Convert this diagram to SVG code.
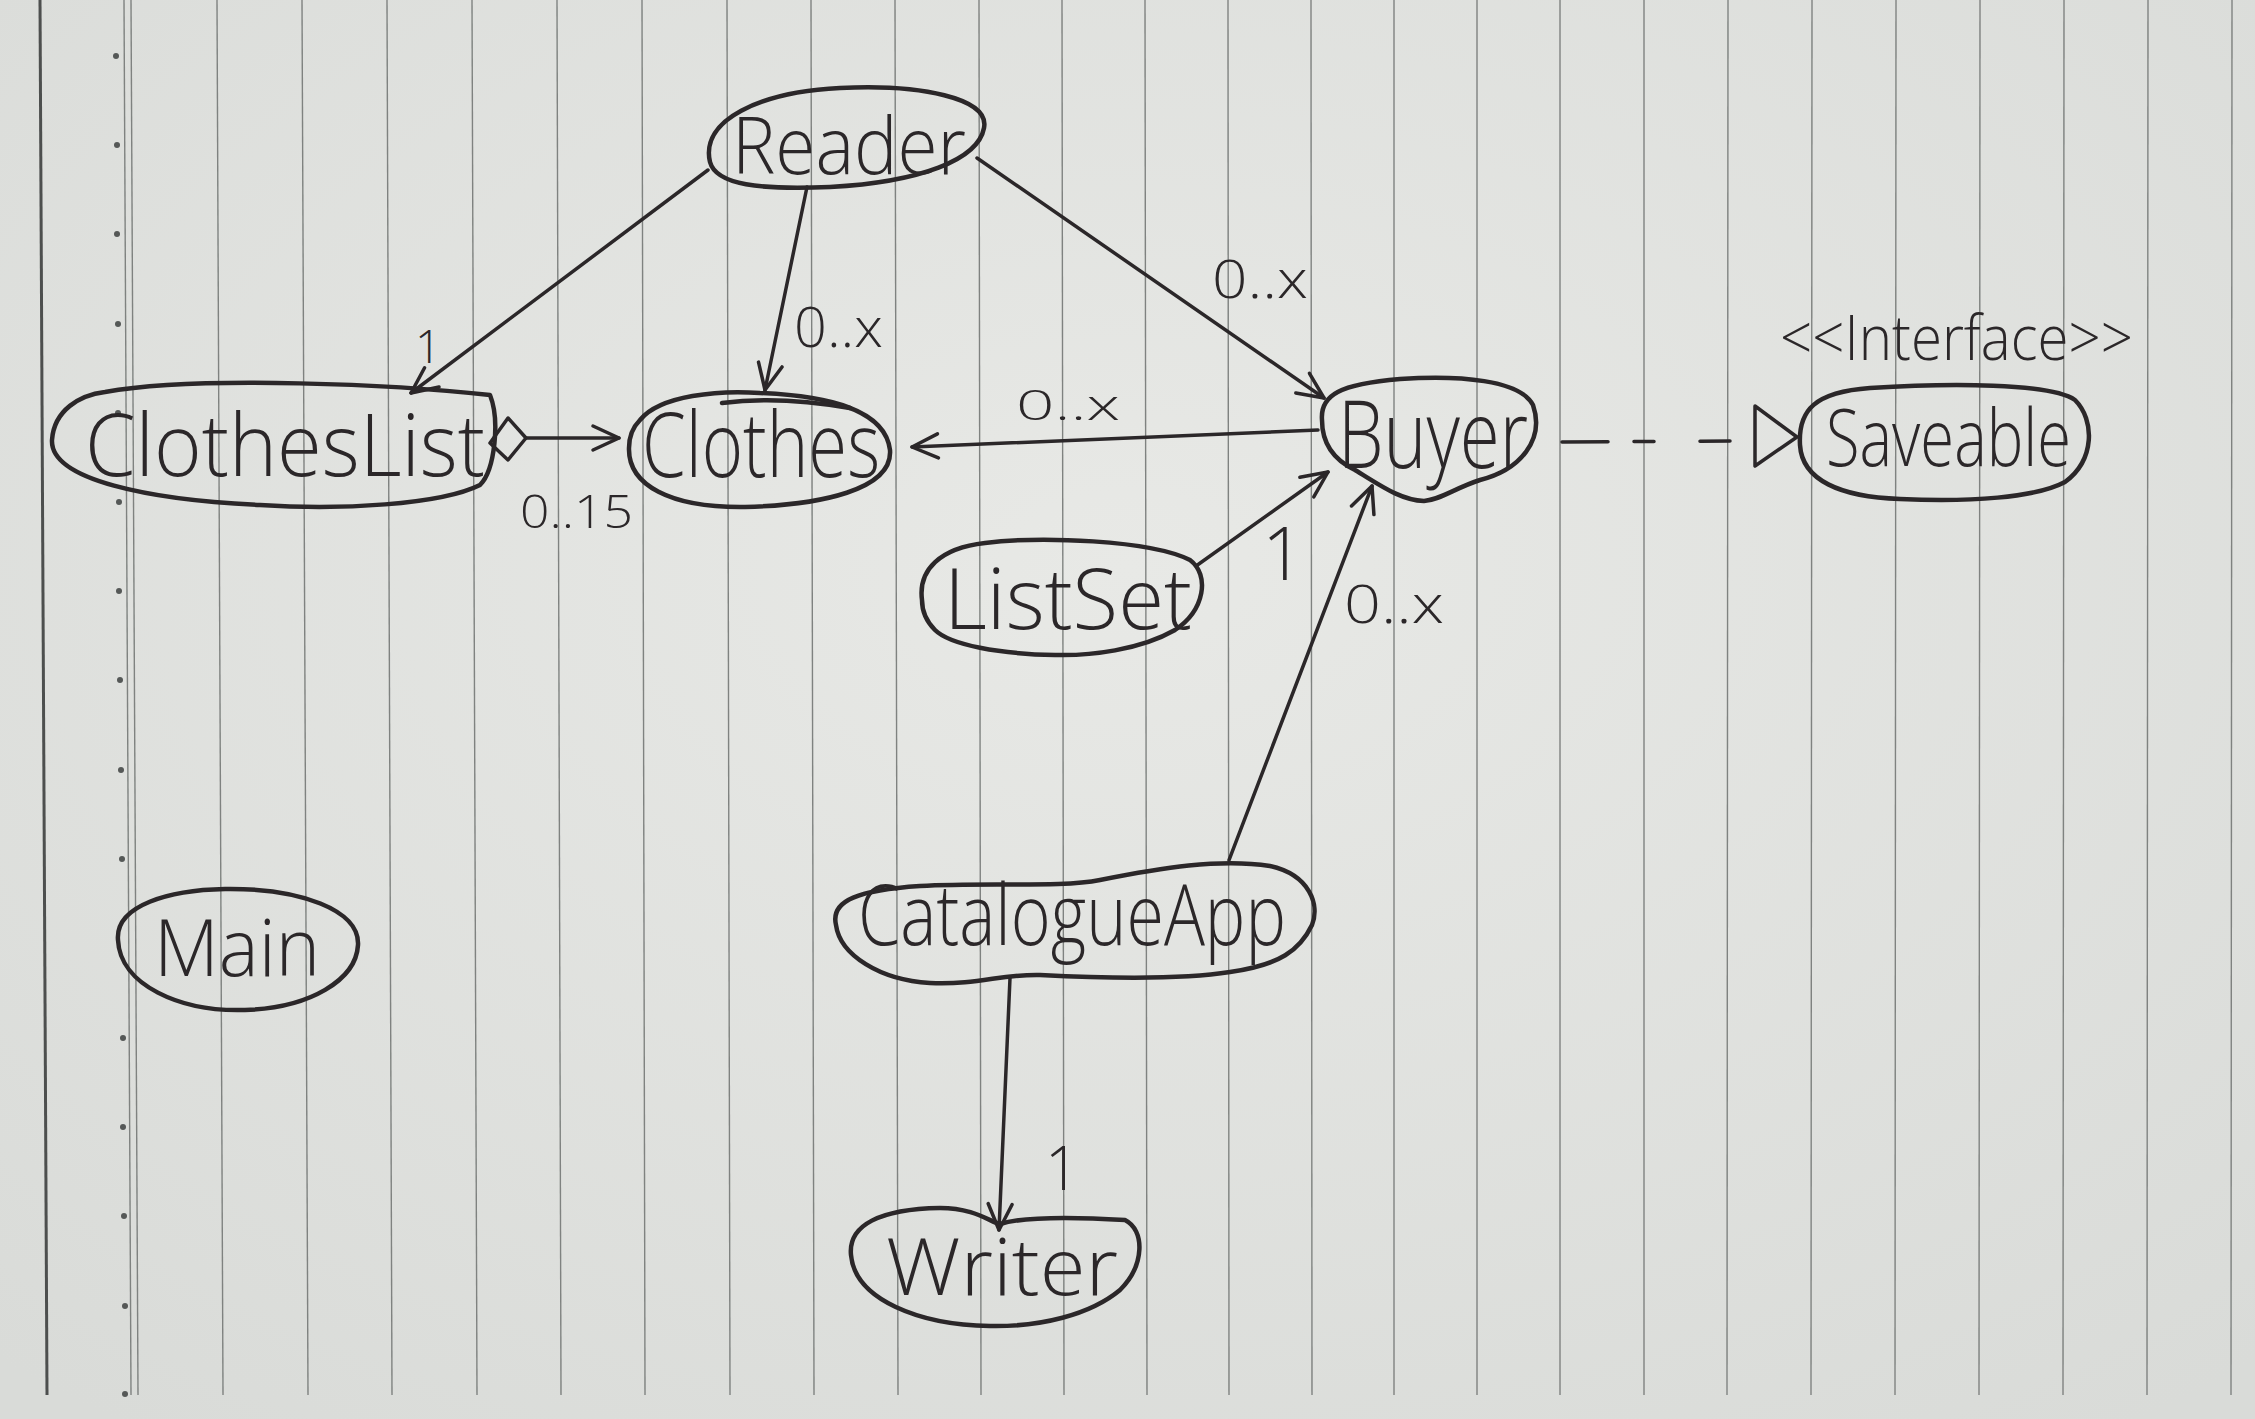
<svg xmlns="http://www.w3.org/2000/svg" width="2255" height="1419" viewBox="0 0 2255 1419">
<defs>
<radialGradient id="paper" cx="50%" cy="40%" r="75%">
<stop offset="0" stop-color="#e8e9e6"/>
<stop offset="1" stop-color="#d9dbd8"/>
</radialGradient>
<marker id="arr" markerUnits="userSpaceOnUse" markerWidth="60" markerHeight="60" refX="0" refY="0" orient="auto" overflow="visible">
<path d="M -26,-12 L 0,0 L -26,12" fill="none" stroke="#2b2729" stroke-width="3.5" stroke-linecap="round" stroke-linejoin="round"/>
</marker>
</defs>
<style>
.rule{stroke:#7f8280;stroke-width:1.4;fill:none}
.margin{stroke:#4d4f4e;stroke-width:3;fill:none}
.dot{fill:#555857}
.node{fill:none;stroke:#2b2729;stroke-width:4.5;stroke-linejoin:round;stroke-linecap:round}
.conn{fill:none;stroke:#2b2729;stroke-width:3.5;stroke-linecap:round;stroke-linejoin:round}
.lbl{font-family:"Open Sans","DejaVu Sans",sans-serif;font-weight:300;fill:#2b2729}
</style>
<rect width="2255" height="1419" fill="url(#paper)"/>
<g id="paper-rules">
<line class="margin" x1="40" y1="0" x2="47" y2="1395"/>
<line class="rule" x1="124" y1="0" x2="131" y2="1395"/>
<line class="rule" x1="131" y1="0" x2="138" y2="1395"/>
<line class="rule" x1="217" y1="0" x2="223" y2="1395"/>
<line class="rule" x1="302" y1="0" x2="308" y2="1395"/>
<line class="rule" x1="387" y1="0" x2="392" y2="1395"/>
<line class="rule" x1="472" y1="0" x2="477" y2="1395"/>
<line class="rule" x1="557" y1="0" x2="561" y2="1395"/>
<line class="rule" x1="642" y1="0" x2="645" y2="1395"/>
<line class="rule" x1="727" y1="0" x2="730" y2="1395"/>
<line class="rule" x1="811" y1="0" x2="814" y2="1395"/>
<line class="rule" x1="895" y1="0" x2="898" y2="1395"/>
<line class="rule" x1="979" y1="0" x2="981" y2="1395"/>
<line class="rule" x1="1062" y1="0" x2="1064" y2="1395"/>
<line class="rule" x1="1145" y1="0" x2="1147" y2="1395"/>
<line class="rule" x1="1228" y1="0" x2="1229" y2="1395"/>
<line class="rule" x1="1311" y1="0" x2="1312" y2="1395"/>
<line class="rule" x1="1394" y1="0" x2="1394" y2="1395"/>
<line class="rule" x1="1477" y1="0" x2="1477" y2="1395"/>
<line class="rule" x1="1560" y1="0" x2="1560" y2="1395"/>
<line class="rule" x1="1644" y1="0" x2="1644" y2="1395"/>
<line class="rule" x1="1728" y1="0" x2="1727" y2="1395"/>
<line class="rule" x1="1812" y1="0" x2="1811" y2="1395"/>
<line class="rule" x1="1896" y1="0" x2="1895" y2="1395"/>
<line class="rule" x1="1980" y1="0" x2="1979" y2="1395"/>
<line class="rule" x1="2064" y1="0" x2="2063" y2="1395"/>
<line class="rule" x1="2148" y1="0" x2="2147" y2="1395"/>
<line class="rule" x1="2232" y1="0" x2="2231" y2="1395"/>
<circle class="dot" cx="116" cy="56" r="3"/>
<circle class="dot" cx="117" cy="145" r="3"/>
<circle class="dot" cx="117" cy="234" r="3"/>
<circle class="dot" cx="118" cy="324" r="3"/>
<circle class="dot" cx="118" cy="413" r="3"/>
<circle class="dot" cx="119" cy="502" r="3"/>
<circle class="dot" cx="119" cy="591" r="3"/>
<circle class="dot" cx="120" cy="680" r="3"/>
<circle class="dot" cx="121" cy="770" r="3"/>
<circle class="dot" cx="122" cy="859" r="3"/>
<circle class="dot" cx="123" cy="1038" r="3"/>
<circle class="dot" cx="123" cy="1127" r="3"/>
<circle class="dot" cx="124" cy="1216" r="3"/>
<circle class="dot" cx="125" cy="1306" r="3"/>
<circle class="dot" cx="125" cy="1394" r="3"/>
</g>
<g id="connectors">
<line class="conn" x1="708" y1="170" x2="411" y2="393" marker-end="url(#arr)"/>
<text class="lbl" x="415" y="363" font-size="46">1</text>
<line class="conn" x1="807" y1="187" x2="765" y2="390" marker-end="url(#arr)"/>
<text class="lbl" x="794" y="347" font-size="55" textLength="89" lengthAdjust="spacingAndGlyphs">0..x</text>
<line class="conn" x1="977" y1="158" x2="1324" y2="398" marker-end="url(#arr)"/>
<text class="lbl" x="1212" y="298" font-size="53" textLength="96" lengthAdjust="spacingAndGlyphs">0..x</text>
<polygon class="conn" points="490,443 508,418 526,438 508,460"/>
<line class="conn" x1="526" y1="438" x2="619" y2="438" marker-end="url(#arr)"/>
<text class="lbl" x="520" y="528" font-size="46" textLength="113" lengthAdjust="spacingAndGlyphs">0..15</text>
<line class="conn" x1="1318" y1="430" x2="912" y2="447" marker-end="url(#arr)"/>
<text class="lbl" x="1016" y="420" font-size="42" textLength="104" lengthAdjust="spacingAndGlyphs">0..x</text>
<line class="conn" x1="1562" y1="442" x2="1730" y2="441" stroke-dasharray="46 26 20 46 30 100"/>
<polygon class="conn" points="1755,406 1797,437 1755,466"/>
<line class="conn" x1="1196" y1="566" x2="1328" y2="472" marker-end="url(#arr)"/>
<text class="lbl" x="1262" y="580" font-size="74">1</text>
<line class="conn" x1="1229" y1="860" x2="1372" y2="486" marker-end="url(#arr)"/>
<text class="lbl" x="1344" y="623" font-size="53" textLength="100" lengthAdjust="spacingAndGlyphs">0..x</text>
<line class="conn" x1="1010" y1="978" x2="999" y2="1230" marker-end="url(#arr)"/>
<text class="lbl" x="1045" y="1190" font-size="60">1</text>
</g>
<g id="node-reader">
<path class="node" d="M 710,162 C 700,120 760,92 840,88 C 920,84 990,98 984,128 C 978,160 920,182 830,187 C 760,190 716,185 710,162 Z"/>
<text class="lbl" x="732" y="174" font-size="80" textLength="234" lengthAdjust="spacingAndGlyphs">Reader</text>
</g>
<g id="node-clotheslist">
<path class="node" d="M 105,392 C 200,375 400,385 490,395 C 500,420 495,470 480,485 C 440,505 340,510 260,505 C 150,500 50,480 52,440 C 54,410 80,395 105,392 Z"/>
<text class="lbl" x="85" y="476" font-size="86" textLength="400" lengthAdjust="spacingAndGlyphs">ClothesList</text>
</g>
<g id="node-clothes">
<path class="node" d="M 640,420 C 660,395 720,390 760,393 C 830,396 885,410 890,450 C 893,490 820,505 745,507 C 670,508 628,485 629,448 C 629,435 633,427 640,420 Z"/>
<path class="node" d="M 722,403 C 760,398 805,400 850,408"/>
<text class="lbl" x="642" y="477" font-size="90" textLength="238" lengthAdjust="spacingAndGlyphs">Clothes</text>
</g>
<g id="node-buyer">
<path class="node" d="M 1322,420 C 1320,395 1340,384 1400,379 C 1460,375 1520,380 1533,405 C 1545,440 1520,470 1480,480 C 1455,488 1440,500 1424,501 C 1400,500 1380,485 1355,470 C 1330,458 1322,440 1322,420 Z"/>
<text class="lbl" x="1338" y="468" font-size="94" textLength="190" lengthAdjust="spacingAndGlyphs">Buyer</text>
</g>
<g id="node-saveable">
<text class="lbl" x="1780" y="360" font-size="62" textLength="353" lengthAdjust="spacingAndGlyphs">&lt;&lt;Interface&gt;&gt;</text>
<path class="node" d="M 1800,445 C 1798,410 1815,392 1870,388 C 1950,383 2050,383 2075,400 C 2095,420 2095,460 2065,482 C 2035,498 1970,502 1900,499 C 1840,497 1802,480 1800,445 Z"/>
<text class="lbl" x="1826" y="466" font-size="80" textLength="245" lengthAdjust="spacingAndGlyphs">Saveable</text>
</g>
<g id="node-listset">
<path class="node" d="M 922,600 C 918,570 940,548 985,543 C 1040,536 1150,540 1190,560 C 1210,575 1205,610 1175,630 C 1140,650 1090,656 1055,655 C 1000,654 950,645 935,630 C 925,620 922,610 922,600 Z"/>
<text class="lbl" x="944" y="629" font-size="84" textLength="248" lengthAdjust="spacingAndGlyphs">ListSet</text>
</g>
<g id="node-main">
<path class="node" d="M 118,940 C 115,905 170,890 225,889 C 300,888 360,910 358,945 C 356,980 310,1008 245,1010 C 180,1012 120,985 118,940 Z"/>
<text class="lbl" x="154" y="976" font-size="80" textLength="166" lengthAdjust="spacingAndGlyphs">Main</text>
</g>
<g id="node-catalogueapp">
<path class="node" d="M 836,925 C 830,900 860,890 920,886 C 990,882 1060,888 1100,880 C 1160,868 1220,858 1270,866 C 1310,875 1320,905 1312,925 C 1300,950 1280,965 1230,972 C 1180,980 1100,978 1040,975 C 1000,974 980,985 930,983 C 880,980 840,955 836,925 Z"/>
<text class="lbl" x="858" y="945" font-size="84" textLength="428" lengthAdjust="spacingAndGlyphs">CatalogueApp</text>
</g>
<g id="node-writer">
<path class="node" d="M 851,1255 C 848,1225 880,1209 940,1208 C 975,1208 990,1222 1000,1224 C 1020,1218 1060,1216 1125,1220 C 1145,1230 1145,1265 1120,1290 C 1090,1315 1040,1327 990,1326 C 920,1325 855,1300 851,1255 Z"/>
<text class="lbl" x="886" y="1295" font-size="80" textLength="232" lengthAdjust="spacingAndGlyphs">Writer</text>
</g>
</svg>
